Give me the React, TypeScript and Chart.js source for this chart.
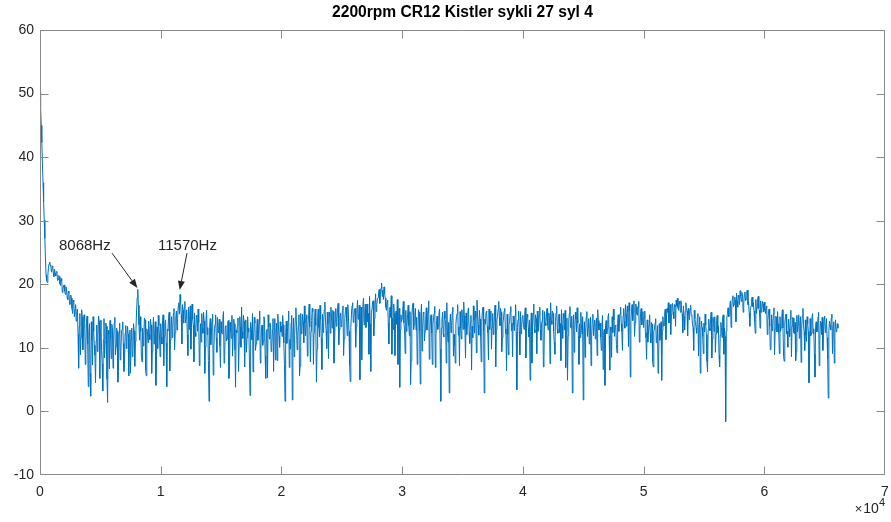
import React, { useEffect, useRef } from "react";
import { Chart, registerables } from "chart.js";

Chart.register(...registerables);

const TITLE = "2200rpm CR12 Kistler sykli 27 syl 4";
const FREQ_STEP_HZ = 100; // main samples at k*100 Hz, mid samples at k*100+50 Hz
const MID_OFFSET_HZ = 50;

// amplitude spectrum
const main0to10k = [
  50.2, 45.0, 39.1, 33.0, 27.2, 21.5, 20.3, 22.6, 23.5, 22.8,
  22.6, 21.8, 22.4, 21.3, 21.9, 20.7, 21.2, 19.8, 20.5, 19.1,
  19.9, 18.4, 19.3, 17.6, 18.7, 16.9, 17.8, 15.4, 17.2, 16.1,
  14.2, 16.1, 6.8, 15.4, 11.6, 14.9, 12.4, 14.3, 9.8, 15.0,
  3.9, 13.8, 2.4, 11.2, 14.9, 10.4, 4.5, 13.6, 11.9, 14.2,
  12.8, 9.6, 3.2, 14.6, 10.9, 13.4, 1.4, 12.1, 14.3, 8.3,
  13.2, 11.4, 14.8, 10.2, 12.6, 7.0, 13.9, 9.1, 12.9, 10.7,
  7.4, 13.5, 11.6, 12.2, 10.3, 6.0, 13.1, 9.2, 12.6, 11.0,
  15.8, 19.2, 13.6, 14.9, 8.7, 13.1, 12.0, 14.4, 5.6, 12.5,
  14.2, 11.3, 13.6, 9.4, 14.8, 12.2, 4.1, 13.3, 15.1, 11.7,
];
const mid0to10k = [
  47.9, 42.3, 36.0, 30.1, 24.3, 20.6, 21.4, 23.2, 23.0, 21.9,
  22.9, 21.2, 21.7, 22.0, 20.6, 21.4, 20.1, 20.9, 18.7, 19.8,
  18.9, 19.6, 17.9, 18.9, 16.8, 18.3, 16.2, 17.5, 14.9, 16.8,
  15.7, 12.2, 13.4, 8.9, 16.0, 9.7, 15.2, 7.4, 14.1, 10.6,
  12.4, 6.0, 14.1, 7.3, 12.6, 8.8, 11.1, 9.4, 15.0, 5.2,
  14.4, 7.5, 11.3, 8.4, 13.9, 5.1, 12.8, 6.7, 11.6, 13.7,
  6.8, 13.9, 8.9, 13.1, 4.6, 12.4, 8.1, 12.7, 14.1, 6.3,
  12.3, 9.9, 13.4, 5.6, 12.8, 11.3, 8.6, 13.8, 7.1, 12.9,
  17.9, 16.7, 11.2, 12.6, 7.8, 10.3, 14.7, 6.5, 13.0, 10.8,
  12.1, 14.5, 6.0, 13.0, 10.6, 14.1, 7.8, 9.9, 13.5, 8.6,
];
const main10to20k = [
  13.8, 10.6, 15.2, 11.9, 14.4, 3.9, 12.7, 15.6, 11.2, 14.9,
  13.1, 16.2, 12.4, 15.8, 14.6, 17.1, 18.4, 15.2, 16.8, 13.9,
  17.3, 14.7, 12.1, 16.4, 15.1, 9.8, 16.9, 13.6, 15.5, 11.8,
  14.9, 16.1, 7.2, 13.8, 15.4, 12.3, 14.2, 10.1, 15.9, 13.2,
  1.6, 14.6, 12.5, 15.3, 9.4, 13.7, 11.6, 14.8, 12.9, 10.3,
  14.1, 12.2, 15.7, 8.6, 13.5, 11.4, 14.3, 6.8, 12.6, 15.1,
  11.9, 13.8, 3.8, 12.4, 14.7, 10.8, 13.3, 16.4, 11.5, 14.2,
  12.7, 9.3, 14.9, 13.1, 2.5, 12.8, 15.4, 11.7, 13.9, 10.6,
  14.5, 12.3, 15.8, 9.9, 13.6, 11.1, 14.4, 5.2, 12.9, 15.2,
  11.4, 13.7, 10.2, 14.6, 12.5, 8.1, 13.9, 15.3, 11.8, 14.1,
];
const mid10to20k = [
  11.7, 14.3, 7.2, 13.6, 10.8, 12.9, 14.8, 6.4, 13.3, 11.6,
  15.4, 9.7, 14.9, 12.8, 16.5, 15.3, 17.2, 10.6, 15.9, 16.3,
  13.9, 16.0, 8.8, 12.9, 16.6, 13.2, 14.5, 7.8, 12.4, 15.1,
  12.6, 14.0, 9.5, 10.9, 13.1, 15.6, 6.0, 14.4, 12.1, 8.0,
  13.2, 10.5, 14.1, 5.7, 13.0, 15.2, 9.3, 12.4, 14.5, 6.9,
  12.4, 14.9, 7.6, 13.3, 11.1, 13.9, 5.2, 14.0, 11.5, 8.7,
  14.5, 9.7, 12.8, 13.5, 6.3, 14.9, 10.1, 12.5, 15.1, 7.0,
  14.4, 11.6, 12.5, 7.9, 14.0, 11.3, 6.2, 14.8, 9.6, 12.9,
  11.2, 14.0, 7.6, 13.1, 10.4, 14.9, 8.7, 12.6, 5.3, 13.3,
  13.9, 9.4, 12.8, 6.3, 14.6, 12.2, 8.0, 13.6, 10.1, 12.5,
];
const main20to30k = [
  13.4, 15.1, 10.8, 1.6, 14.2, 12.6, 15.8, 11.3, 13.9, 1.8,
  14.7, 12.1, 16.3, 9.7, 13.5, 5.6, 15.4, 12.8, 14.1, 16.6,
  11.9, 15.2, 13.6, 16.9, 7.8, 14.3, 15.7, 12.4, 16.1, 4.6,
  14.8, 13.2, 16.7, 11.5, 15.3, 14.0, 17.2, 12.7, 15.6, 8.3,
  14.9, 16.4, 13.1, 15.7, 10.6, 16.2, 14.4, 17.0, 12.9, 15.5,
  13.8, 16.6, 11.4, 15.9, 14.2, 16.8, 12.6, 4.7, 15.3, 17.1,
  14.7, 16.2, 13.3, 17.5, 15.0, 5.0, 16.4, 14.1, 17.8, 15.6,
  13.2, 16.9, 15.4, 18.1, 6.3, 16.0, 17.4, 14.6, 18.5, 16.8,
  17.9, 19.2, 18.4, 20.2, 19.1, 19.6, 17.8, 15.9, 17.5, 10.6,
  16.4, 18.2, 14.7, 16.9, 8.8, 15.8, 17.6, 13.5, 3.8, 15.2,
];
const mid20to30k = [
  11.8, 13.6, 7.4, 12.0, 10.7, 14.3, 6.9, 9.8, 15.1, 12.4,
  8.6, 14.8, 13.4, 11.9, 15.2, 7.1, 12.2, 15.3, 10.8, 13.9,
  14.6, 8.7, 15.1, 13.3, 12.6, 16.2, 7.4, 14.9, 13.5, 9.8,
  16.1, 11.7, 14.5, 6.6, 12.4, 16.0, 14.2, 9.9, 13.8, 15.6,
  12.3, 14.7, 15.9, 7.6, 14.2, 13.4, 16.1, 10.5, 15.0, 13.3,
  15.9, 8.8, 14.6, 16.4, 11.9, 15.0, 7.3, 13.2, 16.6, 14.0,
  16.0, 10.1, 15.8, 14.5, 16.7, 12.9, 8.1, 16.8, 13.6, 16.9,
  15.5, 14.1, 9.0, 13.8, 15.9, 17.2, 11.9, 16.8, 15.7, 17.7,
  18.6, 17.0, 19.4, 18.1, 17.6, 18.6, 16.4, 17.2, 13.9, 15.6,
  14.8, 9.0, 12.9, 15.5, 14.6, 13.7, 7.4, 16.2, 12.8, 14.1,
];
const main30to40k = [
  14.6, 17.3, 12.8, 15.9, 13.4, 16.7, 11.9, 4.2, 15.1, 17.0,
  13.7, 16.2, 14.8, 11.2, 15.6, 4.3, 16.9, 13.1, 15.4, 12.6,
  16.3, 14.0, 17.4, 12.5, 15.2, 7.4, 14.7, 16.5, 11.8, 15.0,
  13.6, 16.1, 1.6, 14.4, 12.2, 15.8, 13.9, 17.1, 10.9, 2.9,
  15.3, 13.5, 16.4, 12.1, 7.6, 14.9, 16.8, 13.3, 15.7, 11.4,
  14.6, 17.2, 12.9, 15.5, 13.8, 16.3, 10.7, 15.1, 13.4, 16.6,
  12.3, 14.8, 17.5, 13.6, 15.9, 11.8, 14.2, 16.4, 2.9, 13.7,
  15.8, 12.4, 16.1, 14.3, 9.8, 15.4, 13.1, 16.7, 12.8, 14.9,
  17.3, 13.5, 15.6, 11.6, 14.7, 16.2, 12.2, 15.3, 8.9, 14.1,
  16.5, 13.9, 15.0, 12.7, 16.8, 3.4, 14.4, 12.6, 15.7, 13.2,
];
const mid30to40k = [
  16.0, 13.9, 9.1, 12.6, 15.2, 13.5, 15.7, 8.0, 16.4, 12.9,
  15.1, 12.8, 7.4, 16.0, 12.7, 14.8, 9.5, 15.6, 11.1, 14.4,
  12.8, 15.8, 8.2, 14.9, 12.3, 13.6, 15.4, 6.9, 14.3, 12.9,
  15.4, 9.8, 13.1, 15.6, 11.7, 14.6, 7.6, 12.5, 14.0, 13.6,
  12.4, 15.7, 8.7, 10.4, 13.6, 15.4, 12.0, 7.2, 13.1, 16.0,
  12.9, 15.0, 8.4, 12.1, 15.9, 12.4, 13.9, 6.5, 11.6, 14.3,
  15.8, 9.2, 15.0, 12.0, 14.5, 7.8, 15.9, 12.7, 14.5, 15.6,
  13.4, 8.1, 12.9, 15.8, 13.2, 12.1, 15.5, 7.0, 14.4, 16.1,
  14.8, 16.2, 9.4, 13.9, 15.8, 13.0, 6.4, 12.1, 13.7, 15.6,
  12.7, 8.6, 13.6, 15.1, 12.5, 13.2, 15.8, 8.9, 12.2, 14.9,
];
const main40to50k = [
  15.1, 12.9, 16.3, 13.6, 14.8, 11.7, 4.9, 15.5, 13.3, 16.9,
  12.4, 14.6, 15.8, 13.0, 16.4, 11.2, 14.3, 7.0, 15.7, 13.5,
  16.2, 12.8, 14.9, 17.1, 13.7, 15.4, 10.9, 14.1, 16.6, 12.3,
  15.3, 13.8, 16.0, 11.5, 14.7, 15.9, 12.6, 4.9, 14.2, 16.5,
  13.1, 2.9, 15.2, 12.7, 14.5, 16.3, 11.9, 13.8, 15.6, 12.2,
  1.8, 14.1, 12.5, 15.7, 13.2, 10.6, 14.8, 12.0, 15.3, 13.6,
  11.4, 14.7, 16.0, 12.8, 13.9, 9.6, 15.1, 12.4, 4.1, 14.3,
  13.0, 15.4, 6.5, 12.7, 14.9, 16.1, 11.8, 13.5, 9.2, 15.2,
  13.9, 16.4, 12.6, 15.0, 14.2, 16.8, 13.4, 15.7, 17.1, 5.4,
  15.9, 14.3, 17.4, 13.8, 16.5, 15.1, 17.3, 12.9, 16.2, 14.6,
];
const mid40to50k = [
  13.7, 15.0, 8.4, 15.3, 13.1, 14.4, 12.6, 7.6, 15.3, 12.8,
  15.2, 9.1, 12.6, 15.1, 12.9, 13.8, 15.9, 8.3, 13.9, 15.0,
  13.6, 15.5, 7.5, 14.3, 15.8, 12.6, 9.0, 15.5, 13.0, 14.6,
  12.4, 8.0, 13.5, 15.4, 12.8, 6.9, 14.7, 11.9, 15.4, 13.2,
  15.0, 12.6, 9.3, 15.6, 12.5, 13.9, 7.4, 11.6, 13.7, 14.9,
  12.6, 8.5, 14.9, 11.8, 14.6, 13.1, 7.2, 14.5, 11.9, 14.4,
  13.2, 8.8, 14.3, 13.8, 11.7, 13.4, 6.6, 12.9, 13.5, 12.2,
  14.8, 11.9, 13.3, 8.5, 12.4, 14.4, 13.6, 10.5, 14.0, 12.6,
  15.4, 13.8, 9.6, 16.2, 13.1, 15.3, 16.6, 10.2, 15.8, 14.1,
  16.8, 15.6, 11.8, 16.9, 15.3, 16.4, 10.9, 15.4, 13.6, 15.7,
];
const main50to60k = [
  13.2, 15.8, 11.6, 14.4, 12.1, 15.2, 10.8, 13.7, 7.0, 12.9,
  14.6, 11.3, 6.0, 13.8, 12.4, 4.9, 14.9, 13.5, 16.1, 14.7,
  15.6, 13.9, 16.8, 15.2, 17.0, 14.6, 16.4, 17.5, 17.8, 15.9,
  16.9, 17.4, 15.3, 16.6, 12.8, 17.1, 15.8, 16.2, 14.4, 16.7,
  15.1, 13.2, 15.9, 14.0, 12.3, 15.4, 13.6, 6.0, 14.2, 11.8,
  13.9, 15.3, 12.1, 6.2, 14.5, 12.7, 15.6, 11.4, 13.8, 14.9,
  12.2, 15.1, 13.4, 7.0, 14.0, 11.6, 15.2, 13.1, -1.6, 14.7,
  16.3, 15.1, 17.4, 16.0, 18.2, 16.8, 17.5, 18.6, 16.4, 17.9,
  19.0, 17.3, 18.4, 16.9, 18.8, 17.7, 19.1, 17.2, 13.4, 16.6,
  18.0, 17.1, 14.2, 17.6, 16.3, 18.1, 15.8, 17.4, 16.0, 16.9,
];
const mid50to60k = [
  14.7, 12.4, 8.2, 10.9, 13.6, 12.3, 14.0, 7.9, 12.6, 13.9,
  10.8, 13.5, 8.6, 11.2, 14.1, 12.7, 13.4, 15.6, 11.3, 16.2,
  17.1, 15.4, 12.1, 16.9, 15.6, 16.8, 13.4, 16.6, 16.3, 17.3,
  15.6, 16.0, 12.4, 14.9, 15.7, 16.2, 11.9, 15.3, 16.0, 15.2,
  13.7, 9.6, 14.6, 13.1, 14.8, 8.7, 14.9, 12.8, 13.2, 9.1,
  12.5, 13.6, 7.9, 12.9, 13.1, 14.4, 8.4, 14.8, 12.6, 9.3,
  14.3, 12.4, 8.8, 12.0, 13.2, 14.7, 9.0, 11.8, 12.6, 15.4,
  14.9, 16.8, 13.2, 17.7, 16.5, 18.0, 14.1, 17.3, 18.3, 16.8,
  18.2, 18.7, 15.6, 18.5, 17.4, 18.9, 16.8, 15.5, 15.9, 17.8,
  16.5, 15.8, 12.3, 15.4, 17.7, 16.2, 13.1, 15.6, 17.3, 15.7,
];
const main60to66k = [
  17.2, 15.4, 16.6, 14.3, 16.1, 9.7, 15.2, 13.6, 16.3, 12.9,
  14.8, 15.7, 12.4, 14.9, 13.2, 16.0, 8.6, 13.9, 15.3, 12.6,
  14.5, 11.8, 15.9, 13.4, 14.7, 12.2, 8.0, 15.1, 13.7, 11.5,
  14.9, 13.1, 16.2, 12.5, 14.4, 11.0, 13.8, 4.5, 14.6, 12.3,
  15.4, 13.0, 5.4, 14.1, 12.7, 15.6, 11.3, 13.9, 14.8, 12.0,
  15.0, 13.3, 11.6, 2.1, 14.2, 12.8, 15.3, 13.5, 7.6, 14.4,
  12.6, 13.1,
];
const mid60to66k = [
  15.9, 16.3, 12.1, 15.7, 13.4, 9.8, 12.7, 15.4, 8.9, 15.0,
  12.5, 13.8, 9.1, 12.6, 14.9, 13.1, 7.9, 14.9, 12.2, 10.1,
  13.0, 14.6, 8.6, 14.8, 12.4, 14.0, 9.4, 12.5, 15.2, 13.6,
  7.7, 15.1, 13.5, 9.6, 12.0, 14.9, 12.6, 8.1, 11.9, 14.7,
  12.2, 9.0, 13.4, 12.5, 14.9, 7.2, 14.2, 12.1, 9.6, 14.6,
  12.4, 14.6, 8.3, 12.7, 13.5, 14.7, 9.1, 14.1, 13.0, 12.5,
  13.8,
];

const mainValues = [
  ...main0to10k, ...main10to20k, ...main20to30k, ...main30to40k,
  ...main40to50k, ...main50to60k, ...main60to66k,
];
const midValues = [
  ...mid0to10k, ...mid10to20k, ...mid20to30k, ...mid30to40k,
  ...mid40to50k, ...mid50to60k, ...mid60to66k,
];

const X_MIN = 0;
const X_MAX = 70000;
const X_STEP = 10000;
const X_EXPONENT = 4;
const Y_MIN = -10;
const Y_MAX = 60;
const Y_STEP = 10;

const annotationLabels = ["8068Hz", "11570Hz"];
const annotationTextX = [1574, 9776];
const annotationTextY = [25.4, 25.4];
const arrowFromX = [5965, 12179];
const arrowFromY = [24.9, 24.9];
const arrowToX = [8068, 11570];
const arrowToY = [19.4, 19.1];

const FONT = 'Arial, "Liberation Sans", Helvetica, sans-serif';
const TEXT_COLOR = "#262626";
const AXIS_COLOR = "#8a8a8a";
const LINE_COLOR = "#0072BD";

const decorPlugin = {
  id: "matlabDecor",
  afterDatasetsDraw(chart: any) {
    const { ctx, chartArea, scales } = chart;
    const { left, right, top, bottom } = chartArea;
    const xs = scales.x;
    const ys = scales.y;
    ctx.save();

    ctx.strokeStyle = AXIS_COLOR;
    ctx.lineWidth = 1;
    const L = Math.round(left) + 0.5;
    const R = Math.round(right) - 0.5;
    const T = Math.round(top) + 0.5;
    const B = Math.round(bottom) - 0.5;
    ctx.beginPath();
    ctx.rect(L, T, R - L, B - T);
    ctx.stroke();

    const TL = 8;
    ctx.beginPath();
    for (let v = X_MIN; v <= X_MAX; v += X_STEP) {
      const px = Math.min(Math.round(xs.getPixelForValue(v)) + 0.5, R);
      ctx.moveTo(px, B);
      ctx.lineTo(px, B - TL);
      ctx.moveTo(px, T);
      ctx.lineTo(px, T + TL);
    }
    for (let v = Y_MIN; v <= Y_MAX; v += Y_STEP) {
      const py = Math.min(Math.round(ys.getPixelForValue(v)) + 0.5, B);
      ctx.moveTo(L, py);
      ctx.lineTo(L + TL, py);
      ctx.moveTo(R, py);
      ctx.lineTo(R - TL, py);
    }
    ctx.stroke();

    ctx.fillStyle = "#000";
    ctx.font = `bold 15.6px ${FONT}`;
    ctx.textAlign = "center";
    ctx.textBaseline = "middle";
    ctx.fillText(TITLE, (left + right) / 2, 13);

    ctx.fillStyle = TEXT_COLOR;
    ctx.strokeStyle = TEXT_COLOR;
    ctx.font = `15px ${FONT}`;
    ctx.textAlign = "left";
    ctx.textBaseline = "alphabetic";
    for (let i = 0; i < annotationLabels.length; i++) {
      ctx.fillText(
        annotationLabels[i],
        xs.getPixelForValue(annotationTextX[i]),
        ys.getPixelForValue(annotationTextY[i])
      );
      const x0 = xs.getPixelForValue(arrowFromX[i]);
      const y0 = ys.getPixelForValue(arrowFromY[i]);
      const x1 = xs.getPixelForValue(arrowToX[i]);
      const y1 = ys.getPixelForValue(arrowToY[i]);
      const ang = Math.atan2(y1 - y0, x1 - x0);
      const hl = 9;
      const hw = 3.5;
      const bx = x1 - hl * Math.cos(ang);
      const by = y1 - hl * Math.sin(ang);
      ctx.lineWidth = 1;
      ctx.beginPath();
      ctx.moveTo(x0, y0);
      ctx.lineTo(bx, by);
      ctx.stroke();
      ctx.beginPath();
      ctx.moveTo(x1, y1);
      ctx.lineTo(bx + hw * Math.sin(ang), by - hw * Math.cos(ang));
      ctx.lineTo(bx - hw * Math.sin(ang), by + hw * Math.cos(ang));
      ctx.closePath();
      ctx.fill();
    }

    ctx.fillStyle = TEXT_COLOR;
    ctx.textAlign = "right";
    ctx.textBaseline = "alphabetic";
    ctx.font = `11px ${FONT}`;
    const expStr = String(X_EXPONENT);
    const expW = ctx.measureText(expStr).width;
    ctx.fillText(expStr, right, 506);
    ctx.font = `14px ${FONT}`;
    const tenW = ctx.measureText("10").width;
    ctx.fillText("10", right - expW, 513);
    ctx.font = `13px ${FONT}`;
    ctx.fillText("\u00d7", right - expW - tenW - 1, 513);

    ctx.restore();
  },
};

export default function App() {
  const canvasRef = useRef<HTMLCanvasElement | null>(null);

  useEffect(() => {
    const canvas = canvasRef.current;
    if (!canvas) return;
    const points: { x: number; y: number }[] = [];
    for (let i = 0; i < mainValues.length; i++) {
      points.push({ x: i * FREQ_STEP_HZ, y: mainValues[i] });
      if (i < midValues.length) {
        points.push({ x: i * FREQ_STEP_HZ + MID_OFFSET_HZ, y: midValues[i] });
      }
    }
    const chart = new Chart(canvas, {
      type: "line",
      data: {
        datasets: [
          {
            data: points,
            borderColor: LINE_COLOR,
            borderWidth: 1,
            pointRadius: 0,
            tension: 0,
            fill: false,
          },
        ],
      },
      options: {
        animation: false,
        responsive: true,
        maintainAspectRatio: false,
        parsing: false as any,
        layout: { padding: { top: 30, right: 6, left: 0, bottom: 0 } },
        plugins: {
          legend: { display: false },
          title: { display: false },
          tooltip: { enabled: false },
        },
        scales: {
          x: {
            type: "linear",
            min: X_MIN,
            max: X_MAX,
            grid: { display: false, drawTicks: false },
            border: { display: false },
            ticks: {
              stepSize: X_STEP,
              autoSkip: false,
              maxRotation: 0,
              padding: 9,
              color: TEXT_COLOR,
              font: { family: FONT, size: 14 },
              callback: (v: any) => String(Number(v) / Math.pow(10, X_EXPONENT)),
            },
            afterFit: (scale: any) => {
              scale.height = 47;
              scale.paddingLeft = 0;
              scale.paddingRight = 0;
            },
          },
          y: {
            type: "linear",
            min: Y_MIN,
            max: Y_MAX,
            grid: { display: false, drawTicks: false },
            border: { display: false },
            ticks: {
              stepSize: Y_STEP,
              padding: 6,
              color: TEXT_COLOR,
              font: { family: FONT, size: 14 },
            },
            afterFit: (scale: any) => {
              scale.width = 40;
              scale.paddingTop = 0;
              scale.paddingBottom = 0;
            },
          },
        },
      },
      plugins: [decorPlugin],
    });
    return () => chart.destroy();
  }, []);

  return (
    <div
      style={{
        position: "fixed",
        left: 0,
        top: 0,
        width: 891,
        height: 522,
        background: "#fff",
      }}
    >
      <canvas ref={canvasRef} />
    </div>
  );
}
